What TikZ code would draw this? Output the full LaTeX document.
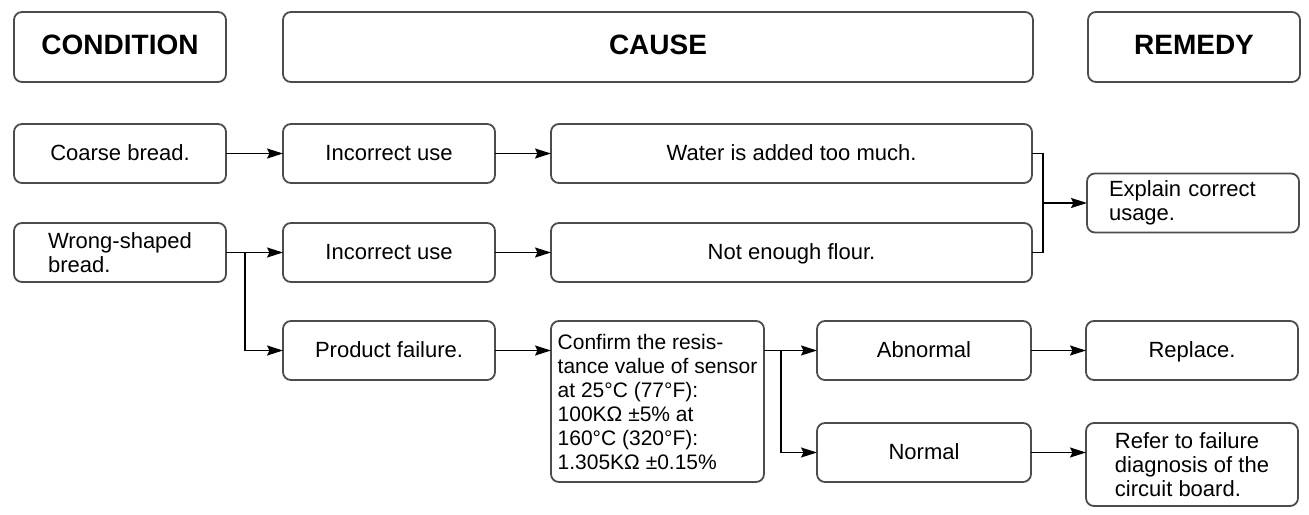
\documentclass[tikz,border=0pt]{standalone}
\usepackage{fontspec}
\setmainfont{Liberation Sans}
\usepackage{tikz}
\usetikzlibrary{
  arrows.meta,
  positioning,
  calc
}

\begin{document}
\begin{tikzpicture}[
    font=\fontsize{11}{12}\selectfont,
    box/.style={
        draw=black!70,
        line width=0.9pt,
        rectangle,
        rounded corners=4pt,
        align=center,
        minimum width=106pt,
        minimum height=29.5pt,
        inner sep=2pt,
        outer sep=0pt
    },
    cell/.style={
        box,
        text height=1.6ex,
        text depth=0.25ex
    },
    head/.style={
        cell,
        minimum height=35pt,
        font=\fontsize{14}{16}\selectfont\bfseries
    },
    arrow/.style={-{Stealth[length=8pt,width=5pt,inset=1.2pt]}, line width=0.75pt},
    line/.style={line width=0.75pt}
]

\path[use as bounding box, fill=white] (0,0) rectangle (654.5pt,-257pt);

% ----------------------------------------------------------
% HEADERS
% ----------------------------------------------------------

\node[head, anchor=north west] (condition) at (7pt,-6pt) {CONDITION};
\node[head, right=28.5pt of condition, minimum width=375pt] (cause) {CAUSE};
\node[head, right=27.5pt of cause] (remedy) {REMEDY};

% ----------------------------------------------------------
% NODES
% ----------------------------------------------------------

\node[cell, below=21pt of condition] (coarse) {Coarse bread.};
\node[box, below=20pt of coarse, align=left] (wrong) {Wrong-shaped\\bread.};

\node[cell, right=28.5pt of coarse] (use1) {Incorrect use};
\node[cell, right=28.5pt of wrong] (use2) {Incorrect use};
\node[cell, below=19.5pt of use2] (failure) {Product failure.};

\node[cell, right=28pt of use1, minimum width=240.5pt] (water) {Water is added too much.};
\node[cell, right=28pt of use2, minimum width=240.5pt] (flour) {Not enough flour.};

\node[box, right=28pt of failure.north east, anchor=north west,
      minimum width=106.5pt, minimum height=80.5pt, align=left,
      font=\fontsize{10.5}{12}\selectfont] (confirm)
    {Confirm the resis-\\tance value of sensor\\at 25°C (77°F):\\100KΩ ±5\% at\\160°C (320°F):\\1.305KΩ ±0.15\%};

\node[cell, right=26.5pt of confirm.north east, anchor=north west, minimum width=107pt] (abnormal) {Abnormal};
\node[cell, below=21.5pt of abnormal, minimum width=107pt] (normal) {Normal};

\coordinate (pair) at ($(water.east)!0.5!(flour.east)$);
\node[box, right=27.5pt of pair, text width=84pt, inner xsep=11pt, align=left] (explain) {Explain correct\\usage.};
\node[cell, right=27.5pt of abnormal] (replace) {Replace.};
\node[box, right=27.5pt of normal.north east, anchor=north west, minimum height=41.5pt, align=left] (refer)
    {Refer to failure\\diagnosis of the\\circuit board.};

% ----------------------------------------------------------
% ARROWS
% ----------------------------------------------------------

\draw[arrow] (coarse) -- (use1);
\draw[arrow] (use1) -- (water);

\draw[arrow] (wrong) -- (use2);
\draw[arrow] (wrong.east) -- ++(9.5pt,0) |- (failure);
\draw[arrow] (use2) -- (flour);

\draw[line] (water.east) -- ++(5.5pt,0) |- (flour.east);
\draw[arrow] (pair) ++(5.5pt,0) -- (explain.west);

\draw[arrow] (failure) -- (failure -| confirm.west);
\draw[arrow] (abnormal.west -| confirm.east) -- (abnormal);
\draw[arrow] (abnormal.west -| confirm.east) ++(8.5pt,0) |- (normal);

\draw[arrow] (abnormal) -- (replace);
\draw[arrow] (normal) -- (normal -| refer.west);

\end{tikzpicture}
\end{document}
